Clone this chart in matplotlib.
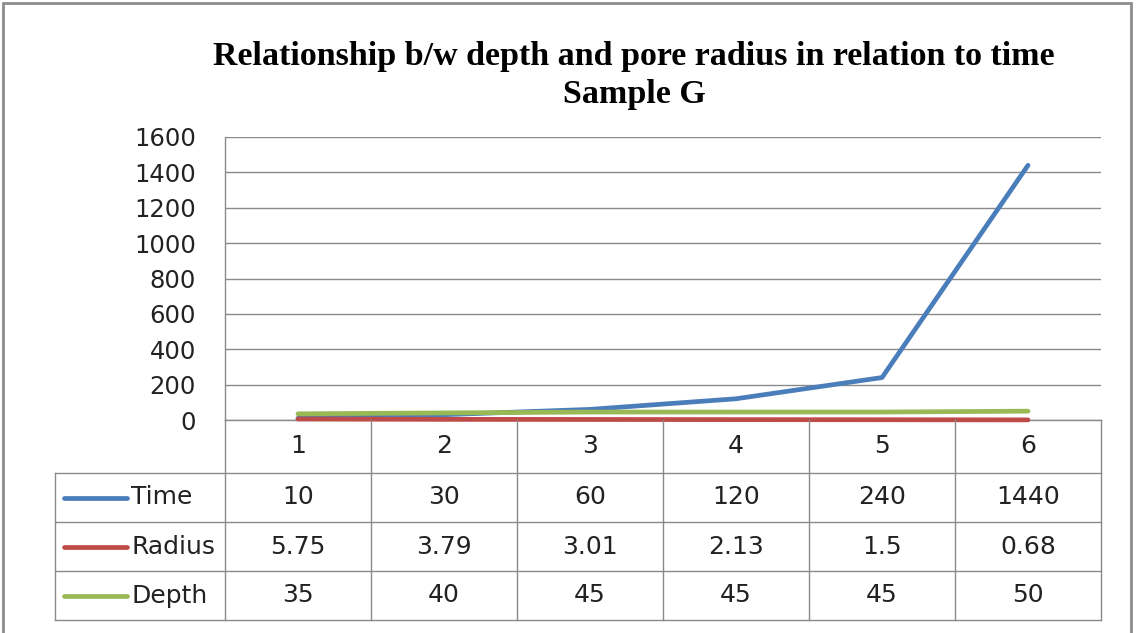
import matplotlib.pyplot as plt
from matplotlib.patches import Rectangle

# data
categories = [1, 2, 3, 4, 5, 6]
time = [10, 30, 60, 120, 240, 1440]
radius = [5.75, 3.79, 3.01, 2.13, 1.5, 0.68]
depth = [35, 40, 45, 45, 45, 50]
series_names = ['Time', 'Radius', 'Depth']
series_labels = [['10', '30', '60', '120', '240', '1440'],
                 ['5.75', '3.79', '3.01', '2.13', '1.5', '0.68'],
                 ['35', '40', '45', '45', '45', '50']]
colors = ['#4A7EBB', '#BE4B48', '#98B954']

W, H = 1136, 633
grid_c = '#8a8a8a'
txt_c = '#222222'

fig = plt.figure(figsize=(W / 100, H / 100), dpi=100)
fig.patch.set_facecolor('white')

# outer frame
fig.patches.append(Rectangle((3 / W, -0.05), 1128 / W, 1 - 3 / H + 0.05,
                             transform=fig.transFigure, fill=False,
                             edgecolor='#8c8c8c', lw=2))

fig.text(634 / W, 1 - 56 / H,
         'Relationship b/w depth and pore radius in relation to time',
         ha='center', va='center', fontsize=24.5, fontweight='bold',
         family='Liberation Serif')
fig.text(634 / W, 1 - 94 / H, 'Sample G', ha='center', va='center',
         fontsize=24.5, fontweight='bold', family='Liberation Serif')

# plot area
ax = fig.add_axes([225 / W, 1 - 420 / H, (1101 - 225) / W, (420 - 137) / H])
ax.set_xlim(0.5, 6.5)
ax.set_ylim(0, 1600)
ax.set_yticks(range(0, 1601, 200))
ax.set_xticks([])
ax.tick_params(axis='y', length=0, pad=21, labelsize=17.5, labelcolor=txt_c)
ax.yaxis.grid(True, color=grid_c, lw=1)
ax.set_axisbelow(True)
for s in ['top', 'right']:
    ax.spines[s].set_visible(False)
for s in ['left', 'bottom']:
    ax.spines[s].set_color(grid_c)
    ax.spines[s].set_linewidth(1)

for vals, c in zip([time, radius, depth], colors):
    ax.plot(categories, vals, color=c, lw=3.4, solid_capstyle='round',
            solid_joinstyle='round', clip_on=False, zorder=3)

# data table below the plot
left_px = 55
x0 = 0.5 - (225 - left_px) / 146
tax = fig.add_axes([left_px / W, 1 - 620 / H, (1101 - left_px) / W, 200 / H])
tax.set_xlim(x0, 6.5)
tax.set_ylim(200, 0)
tax.axis('off')

rows = [0, 53, 102, 151, 200]
for k in range(7):
    tax.plot([0.5 + k, 0.5 + k], [0, 200], color=grid_c, lw=1, clip_on=False)
tax.plot([x0, x0], [53, 200], color=grid_c, lw=1, clip_on=False)
for r in rows[1:]:
    tax.plot([x0, 6.5], [r, r], color=grid_c, lw=1, clip_on=False)

fs = 18
for i, cat in enumerate(categories):
    tax.text(cat, 26, str(cat), ha='center', va='center', fontsize=fs,
             color=txt_c)

for j, (name, labs, c) in enumerate(zip(series_names, series_labels, colors)):
    yc = (rows[j + 1] + rows[j + 2]) / 2
    tax.plot([x0 + 9 / 146, x0 + 72 / 146], [yc, yc], color=c, lw=3.4,
             solid_capstyle='round')
    tax.text(x0 + 76 / 146, yc, name, ha='left', va='center', fontsize=fs,
             color=txt_c)
    for cat, lab in zip(categories, labs):
        tax.text(cat, yc, lab, ha='center', va='center', fontsize=fs,
                 color=txt_c)

fig.savefig('out.png', dpi=100)
